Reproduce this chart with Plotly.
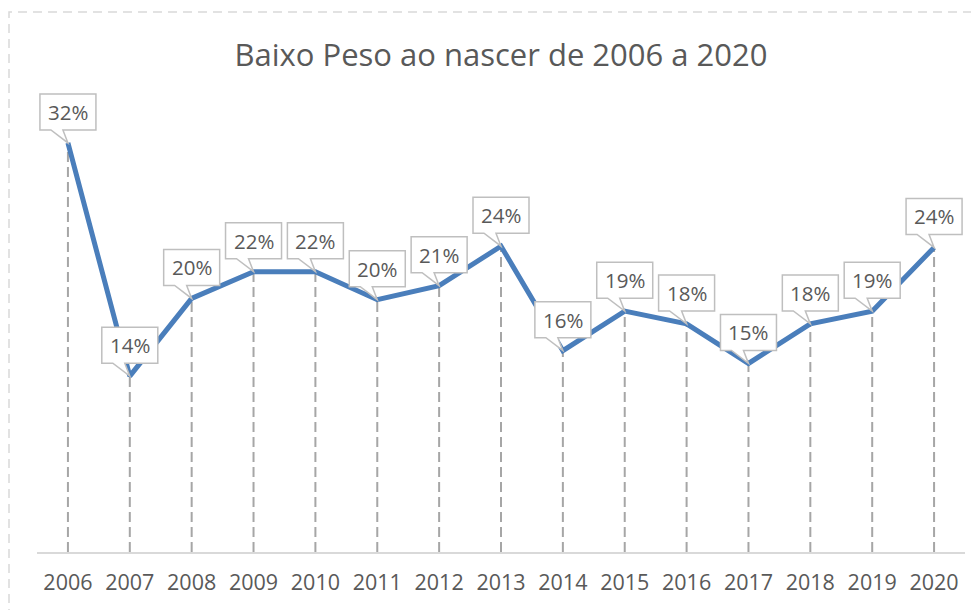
import plotly.graph_objects as go

years = ["2006", "2007", "2008", "2009", "2010", "2011", "2012", "2013",
         "2014", "2015", "2016", "2017", "2018", "2019", "2020"]
values = [32.1, 13.8, 19.9, 22.0, 22.0, 19.8, 20.9, 24.0,
          15.8, 18.9, 17.9, 14.8, 17.9, 18.9, 23.9]
labels = ["32%", "14%", "20%", "22%", "22%", "20%", "21%", "24%",
          "16%", "19%", "18%", "15%", "18%", "19%", "24%"]
title = "Baixo Peso ao nascer de 2006 a 2020"

FONT = "Open Sans"
GRAY_TXT = "#595959"
idx = list(range(len(years)))

# page body has an 8px margin; compensate
OFF = 8
W, H = 979 - OFF, 610 - OFF
PL, PR = 37 - OFF, 965 - OFF      # plot area left/right (page px -> fig px)
PT, PB = 80 - OFF, 552 - OFF      # plot area top/bottom
PX_PER_UNIT = 446 / 35
YMAX = (PB - PT) / PX_PER_UNIT

fig = go.Figure()

# drop lines
dx, dy = [], []
for i, v in zip(idx, values):
    dx += [i, i, None]
    dy += [0, v, None]
fig.add_trace(go.Scatter(x=dx, y=dy, mode="lines",
                         line=dict(color="#A6A6A6", width=2, dash="10px,5px"),
                         hoverinfo="skip", showlegend=False))

# main line
fig.add_trace(go.Scatter(x=idx, y=values, mode="lines",
                         line=dict(color="#4A7EBB", width=5),
                         showlegend=False))

# callouts
callout = "M -28,13 L -17,13 L 0,0 L -5,13 L 28,13 L 28,49 L -28,49 Z"
for i, v, lab in zip(idx, values, labels):
    fig.add_shape(type="path", xref="x", yref="y",
                  xsizemode="pixel", ysizemode="pixel",
                  xanchor=i, yanchor=v, path=callout,
                  fillcolor="white", line=dict(color="#BFBFBF", width=1.5),
                  layer="above")
    fig.add_annotation(x=i, y=v, text=lab, showarrow=False, yshift=31,
                       font=dict(family=FONT, size=20.5, color=GRAY_TXT))

# outer dashed border
pw, ph = PR - PL, PB - PT
fig.add_shape(type="rect", xref="paper", yref="paper",
              x0=(9 - OFF - PL) / pw, x1=(W + 10 - PL) / pw,
              y0=(PB - (H + 10)) / ph, y1=(PB - (12 - OFF)) / ph,
              line=dict(color="#D9D9D9", width=1.5, dash="9px,6px"),
              fillcolor="rgba(0,0,0,0)", layer="below")

fig.update_layout(
    width=W, height=H,
    margin=dict(l=PL, r=W - PR, t=PT, b=H - PB, pad=0),
    paper_bgcolor="white", plot_bgcolor="white",
    title=dict(text=title, x=0.5, xref="paper", xanchor="center",
               y=1 - (55 - OFF) / H, yanchor="middle",
               font=dict(family=FONT, size=31, color=GRAY_TXT)),
    xaxis=dict(range=[-0.5, len(years) - 0.5], tickvals=idx, ticktext=years,
               showgrid=False, zeroline=False, showline=True,
               linecolor="#D9D9D9", linewidth=2, ticks="",
               ticklabelstandoff=10,
               tickfont=dict(family=FONT, size=21.5, color=GRAY_TXT)),
    yaxis=dict(range=[0, YMAX], visible=False, showgrid=False, zeroline=False),
)

fig.write_html("out.html")
